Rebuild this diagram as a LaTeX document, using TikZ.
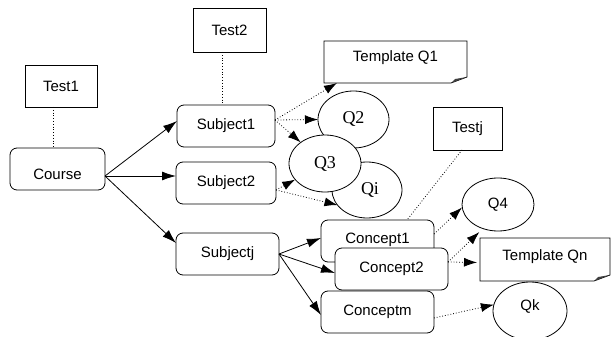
\documentclass[tikz,border=0pt]{standalone}
\usepackage{fontspec}
\setmainfont{Liberation Sans}
\newfontfamily\serifq{Liberation Serif}
\usetikzlibrary{arrows.meta,shapes.geometric}

\begin{document}
\begin{tikzpicture}[x=1pt,y=-1pt,
  every node/.style={inner sep=0pt,outer sep=0pt,font=\fontsize{15}{18}\selectfont},
  plainbox/.style={draw,line width=0.8pt,fill=white},
  rbox/.style={draw,line width=0.8pt,fill=white,rounded corners=7pt,minimum height=42pt},
  qell/.style={draw,ellipse,line width=0.8pt,fill=white},
  serifq/.style={font=\fontsize{18}{20}\serifq},
  notebox/.style={minimum height=42pt},
  link/.style={line width=0.8pt,-{Latex[length=14pt,width=9pt]}},
  dlink/.style={line width=0.8pt,dotted,-{Latex[length=13pt,width=9pt]}},
  dline/.style={line width=0.8pt,dotted}]
\useasboundingbox (0,0) rectangle (611,337);

% test boxes
\node[plainbox,minimum width=72pt,minimum height=42pt] (test1) at (61,86) {Test1};
\node[plainbox,minimum width=73pt,minimum height=44pt] (test2) at (229.5,30) {Test2};
\node[plainbox,minimum width=69pt,minimum height=43pt] (testj) at (467.5,128.5) {Testj};

% course and subjects
\node[rbox,minimum width=95pt,label={[yshift=-5pt]center:Course}] (course) at (57.5,169) {};
\node[rbox,minimum width=98pt] (subject1) at (226,126) {Subject1};
\node[rbox,minimum width=100pt] (subject2) at (226,183) {Subject2};
\node[rbox,minimum width=103pt] (subjectj) at (227.5,254) {Subjectj};

% concepts
\node[rbox,minimum width=113pt,label={[yshift=1pt]center:Concept1}] (concept1) at (377.5,241) {};
\node[rbox,minimum width=113pt] (concept2) at (391.5,269) {Concept2};
\node[rbox,minimum width=113pt] (conceptm) at (377.5,312) {Conceptm};

% questions
\node[qell,serifq,minimum width=71pt,minimum height=57pt] (q2) at (353.5,119.5) {Q2};
\node[qell,serifq,minimum width=70pt,minimum height=56pt] (qi) at (367,190) {\hspace*{6pt}Qi};
\node[qell,serifq,minimum width=72pt,minimum height=57pt] (q3) at (325,163.5) {Q3};
\node[qell,minimum width=72pt,minimum height=53pt] (q4) at (498,204.5) {Q4};
\node[qell,minimum width=74pt,minimum height=58pt,label={[yshift=5pt]center:Qk}] (qk) at (530,311) {};

% template notes with a folded corner
\node[notebox,minimum width=143pt,label={[yshift=4pt]center:Template Q1}] (tq1) at (395.5,62) {};
\node[notebox,minimum width=130pt,minimum height=43pt,label={[yshift=3pt]center:Template Qn}] (tqn) at (545,259.5) {};
\foreach \n in {tq1,tqn}{
  \draw[line width=0.8pt] (\n.north west) -- (\n.north east) -- ([yshift=6pt]\n.south east)
    -- ([xshift=-16pt]\n.south east) -- (\n.south west) -- cycle;
  \fill[black!75] ([yshift=6pt]\n.south east) -- ([xshift=-16pt]\n.south east)
    -- ([xshift=-12pt,yshift=4pt]\n.south east) -- cycle;
}

% tests attached to their items
\draw[dline] ([xshift=-8pt]test1.south) -- ([xshift=-4.5pt]course.north);
\draw[dline] ([xshift=-7.5pt]test2.south) -- ([xshift=-4pt]subject1.north);
\draw[dline] ([xshift=-5.5pt]testj.south) -- ([xshift=29.5pt]concept1.north);

% course to subjects
\draw[link] ([yshift=-7pt]course.east) -- ([yshift=5pt]subject1.west);
\draw[link] ([yshift=-7pt]course.east) -- ([yshift=7pt]subject2.west);
\draw[link] ([yshift=-7pt]course.east) -- ([yshift=11pt]subjectj.west);

% subjectj to concepts
\draw[link] (subjectj.east) -- ([yshift=3pt]concept1.west);
\draw[link] (subjectj.east) -- ([yshift=-4pt]concept2.west);
\draw[link] (subjectj.east) -- ([yshift=-3pt]conceptm.west);

% subjects to questions
\draw[dlink] ([yshift=6pt]subject1.east) -- ([xshift=13pt]tq1.south west);
\draw[dlink] ([yshift=6pt]subject1.east) -- (q2.west);
\draw[dlink] ([yshift=6pt]subject1.east) -- (q3);
\draw[dlink] ([yshift=-7pt]subject2.east) -- (q3);
\draw[dlink] ([yshift=-7pt]subject2.east) -- (qi.207);

% concepts to questions
\draw[dlink] ([yshift=7pt]concept1.east) -- ([yshift=-3pt]q4.west);
\draw[dlink,shorten >=5pt] ([yshift=7pt]concept2.east) -- (q4.238);
\draw[dlink,shorten >=3pt] ([yshift=7pt]concept2.east) -- ([yshift=-3pt]tqn.west);
\draw[dlink] ([yshift=-6pt]conceptm.east) -- (qk.170);
\end{tikzpicture}
\end{document}
